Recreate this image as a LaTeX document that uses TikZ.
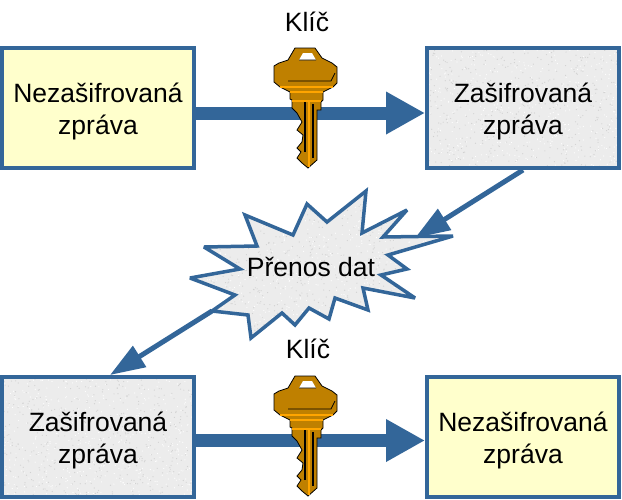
\documentclass[tikz,border=0pt]{standalone}
\usepackage{fontspec}
\setmainfont{Liberation Sans}
\usepackage{xcolor}
\usetikzlibrary{positioning, arrows.meta, calc}
\definecolor{edgeblue}{RGB}{51,102,153}
\definecolor{plainfill}{RGB}{255,255,204}
\definecolor{cipherfill}{RGB}{236,236,236}
\definecolor{keygold}{RGB}{191,128,0}
\definecolor{keylight}{RGB}{255,165,0}
\newcommand{\boxtext}[1]{\rule{0pt}{27pt}#1\\zpr\'ava}

\tikzset{
    speckle/.style={fill=cipherfill, path picture={
        \foreach \i in {1,...,#1} {
            \fill[black!18] ($(path picture bounding box.north west)+(rnd*270,rnd*150)$) circle (.6pt);
            \fill[white] ($(path picture bounding box.north west)+(rnd*270,rnd*150)$) circle (.6pt);
        }
    }},
    plainbox/.style={draw=edgeblue, line width=4pt, fill=plainfill, minimum width=192pt, minimum height=120pt, align=center, font=\fontsize{26.5}{32}\selectfont},
    cipherbox/.style={plainbox, speckle=800},
    keylabel/.style={font=\fontsize{26.5}{30}\selectfont},
    thickarrow/.style={draw=edgeblue, line width=13pt, -{Triangle[length=39pt, width=40pt]}},
    thinarrow/.style={draw=edgeblue, line width=5pt, -{Triangle[length=35pt, width=24pt]}},
    keyshape/.pic={
        \draw[black, line width=.8pt, fill=keygold] (21,0) -- (41,0) -- (48,10) -- (58,15) -- (63,19) -- (63,35) -- (59,39) -- (49,44) -- (49,52) -- (47,54) -- (47,62) -- (43,62) -- (43,112) -- (34,120) -- (28,115) -- (23,110) -- (27,104) -- (23,100) -- (28,94) -- (29,87) -- (23,82) -- (28,74) -- (23,65) -- (18,60) -- (18,52) -- (16,51) -- (16,44) -- (6,39) -- (0,34) -- (0,18) -- (5,15) -- (14,12) -- cycle;
        \fill[white] (25,12) -- (29,5) -- (38,5) -- (42,12) -- cycle;
        \draw[black, line width=.8pt] (25,12) -- (42,12) (14,33) -- (57,33) -- (61,25);
        \draw[keylight, line width=1.2pt] (6,39) -- (59,39) (16,44) -- (49,44) (18,53) -- (47,53) (35,54) -- (35,119);
        \draw[black, line width=1.4pt] (31,54) -- (31,104) (39,56) -- (39,110);
    }
}

\begin{document}
\begin{tikzpicture}[x=1pt, y=-1pt]
    \useasboundingbox (0,0) rectangle (622,499);
    \pgfmathsetseed{42}

    % top row
    \node[plainbox] (plaintop) at (98,108) {\boxtext{Neza\v{s}ifrovan\'a}};
    \node[cipherbox] (ciphertop) at (523,108) {\boxtext{Za\v{s}ifrovan\'a}};
    \node[keylabel] (keytextA) at (307,22) {Kl\'{\i}\v{c}};

    % bottom row
    \node[cipherbox] (cipherbot) at (98,437) {\boxtext{Za\v{s}ifrovan\'a}};
    \node[plainbox] (plainbot) at (523,437) {\boxtext{Neza\v{s}ifrovan\'a}};
    \node[keylabel] (keytextB) at (308,349) {Kl\'{\i}\v{c}};

    % burst in the middle
    \draw[edgeblue, line width=3.5pt, speckle=800, line join=miter, miter limit=3]
        (245,215) -- (293,235) -- (307,204) -- (327,222) -- (366,191) -- (362,233) -- (407,210) -- (383,237) -- (453,236) -- (388,255) -- (407,269) -- (381,275) -- (415,298) -- (363,288) -- (368,310) -- (335,298) -- (329,319) -- (309,308) -- (295,325) -- (282,313) -- (251,338) -- (248,315) -- (212,311) -- (235,295) -- (190,278) -- (240,269) -- (204,247) -- (257,246) -- cycle;
    \node[font=\fontsize{26.5}{30}\selectfont] (burst) at (311,267) {P\v{r}enos dat};
    \coordinate (burstin) at (415,238);
    \coordinate (burstout) at (212,311);

    \draw[thickarrow] (plaintop.east |- 0,113) -- (ciphertop.west |- 0,113);
    \draw[thickarrow] (cipherbot.east |- 0,440.5) -- (plainbot.west |- 0,440.5);
    \draw[thinarrow] (ciphertop.south) -- (burstin);
    \draw[thinarrow] (burstout) -- ([xshift=12pt]cipherbot.north);

    \pic at (274,48) {keyshape};
    \pic at (274,376) {keyshape};
\end{tikzpicture}
\end{document}
